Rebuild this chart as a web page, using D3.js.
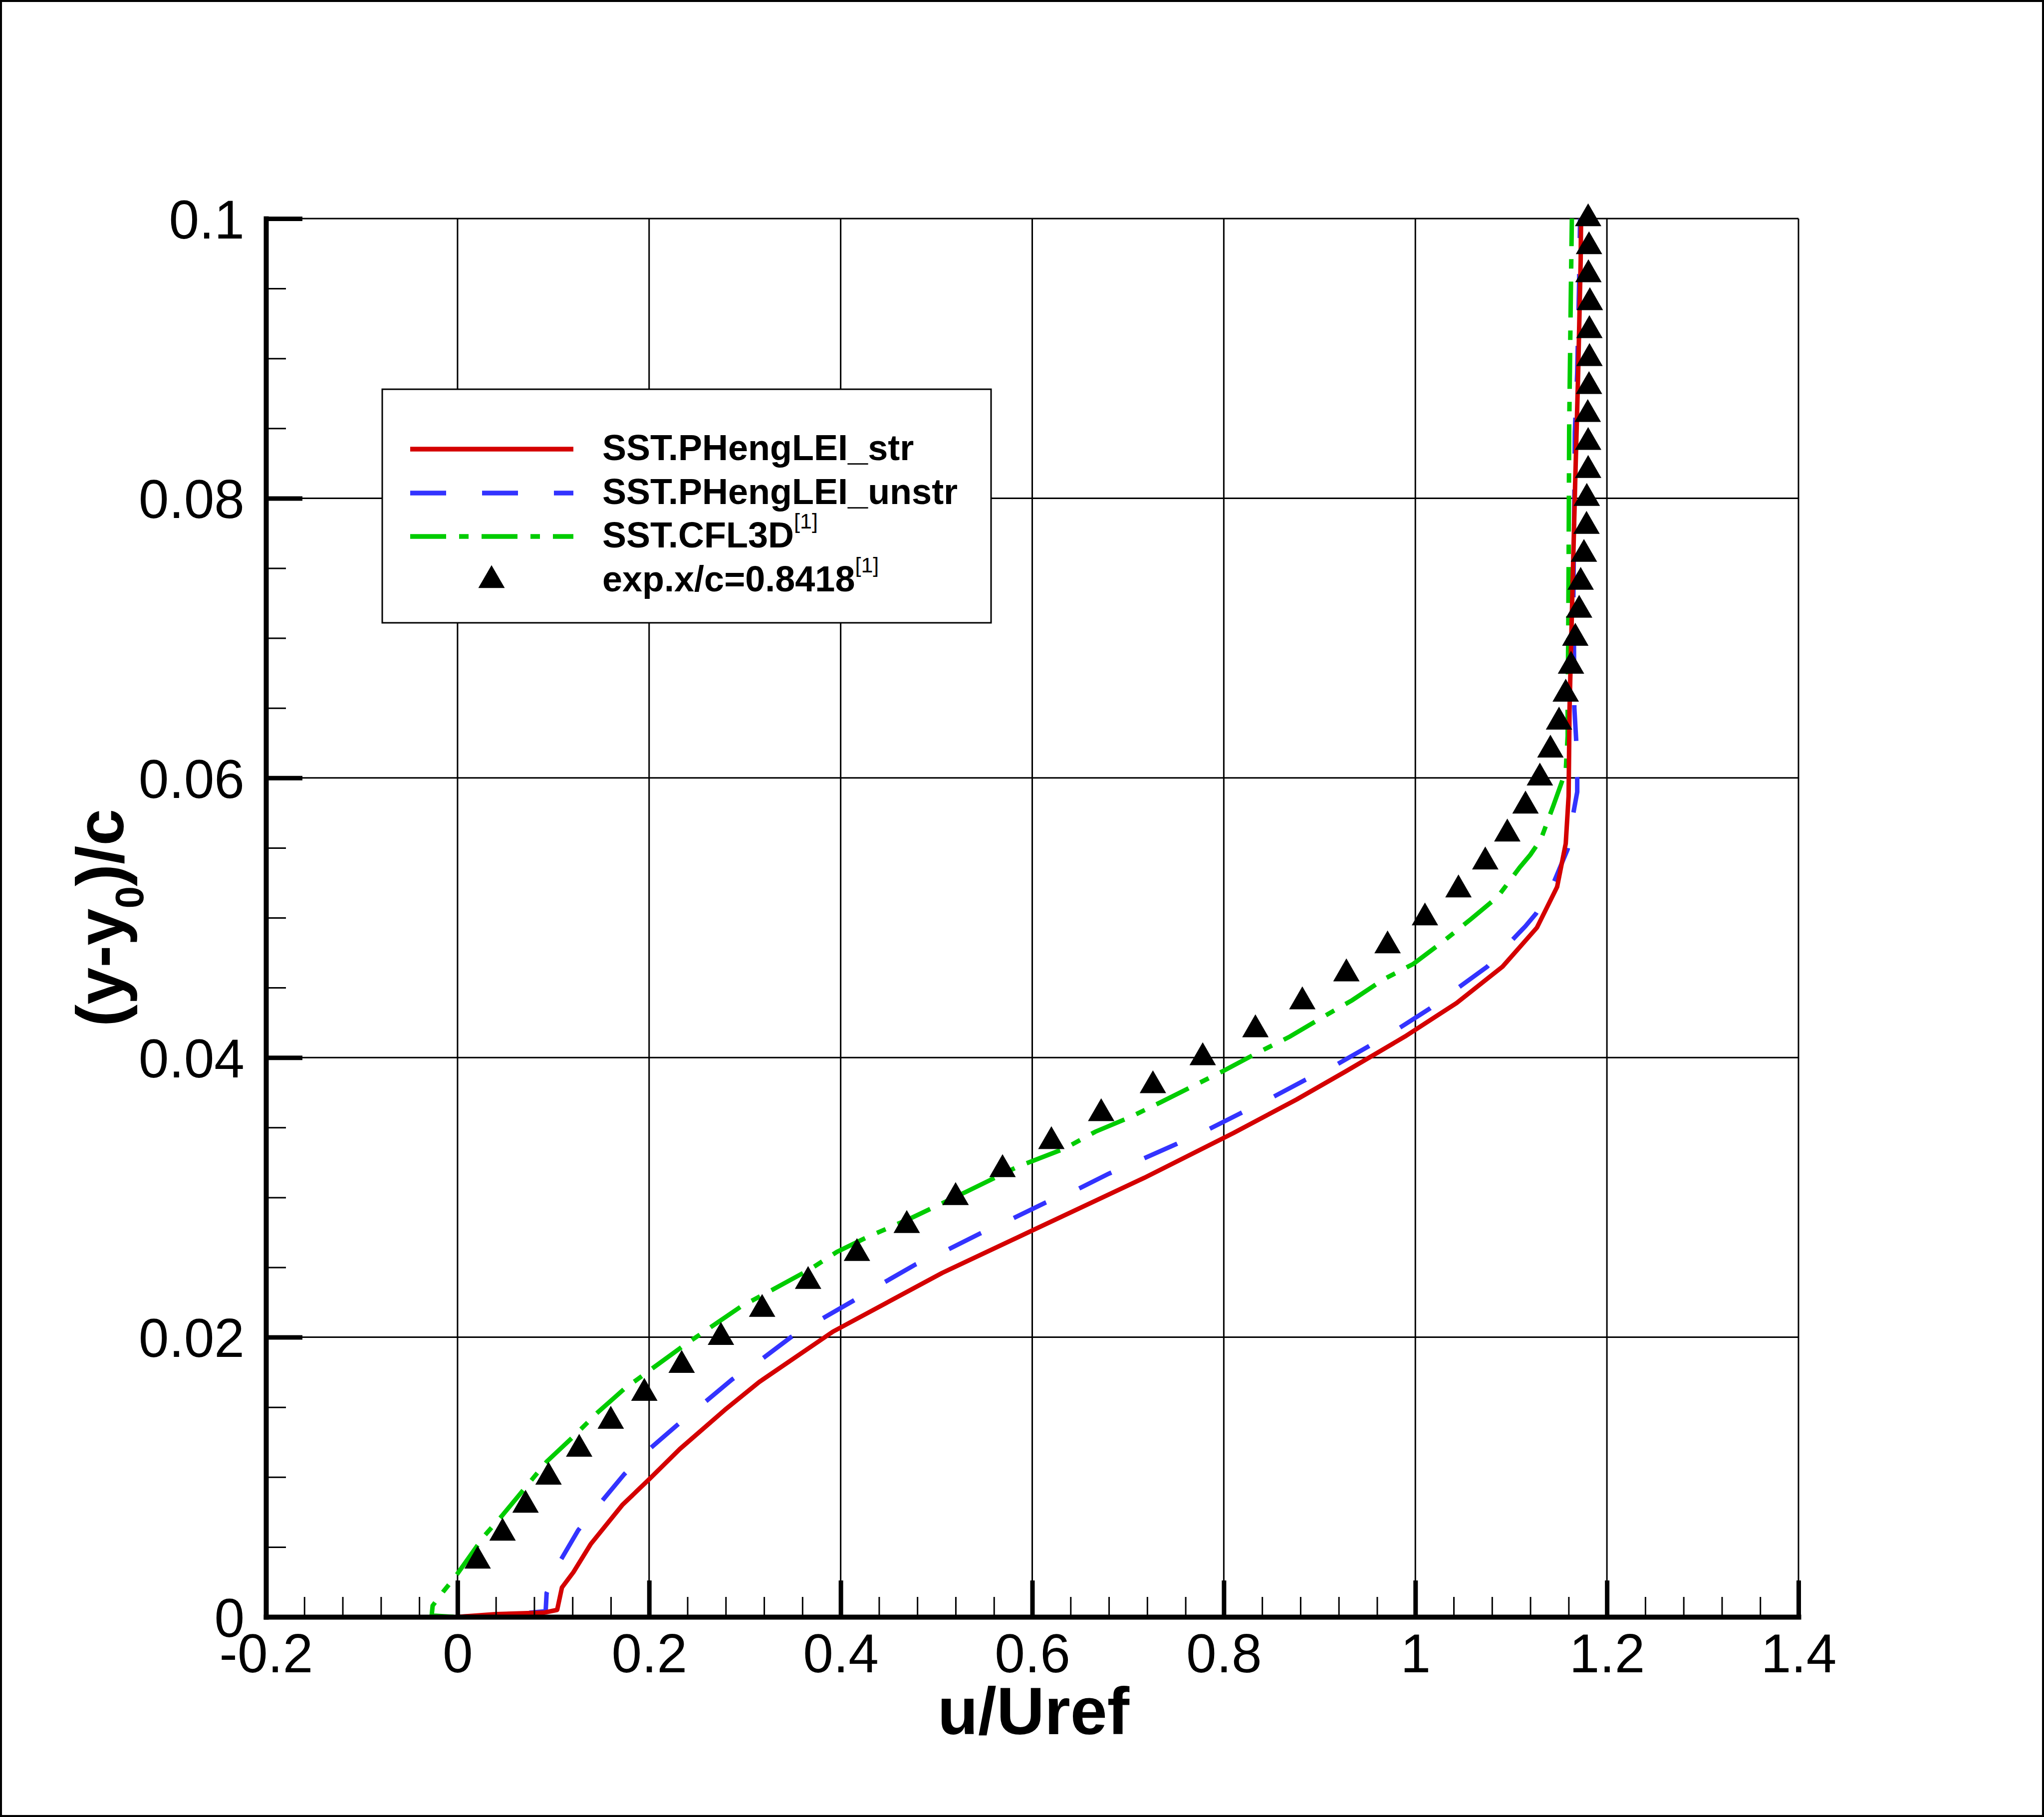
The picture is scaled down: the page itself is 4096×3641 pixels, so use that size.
<!DOCTYPE html>
<html>
<head>
<meta charset="utf-8">
<script src="https://cdn.jsdelivr.net/npm/d3@7"></script>
<style>
  body { margin: 0; background: #fff; }
  text { font-family: "Liberation Sans", Arial, Helvetica, sans-serif; }
</style>
</head>
<body>
<div id="chart"></div>
<script>
const width = 4096,
      height = 3641;
const plot = {left: 533, right: 3604, top: 438, bottom: 3240};

// [u/Uref, (y-y0)/c]
const strData = [[0,0],[0.04,0.0002],[0.09,0.0003],[0.104,0.0005],[0.109,0.0021],[0.121,0.0032],
  [0.139,0.0052],[0.172,0.0080],[0.201,0.0099],[0.232,0.0120],[0.279,0.0148],[0.315,0.0168],
  [0.392,0.0204],[0.506,0.0246],[0.599,0.0276],[0.717,0.0314],[0.810,0.0346],[0.876,0.0370],
  [0.927,0.0390],[0.989,0.0415],[1.043,0.0439],[1.091,0.0465],[1.127,0.0493],[1.148,0.0522],
  [1.157,0.0553],[1.160,0.0587],[1.161,0.0650],[1.1634,0.0717],[1.1667,0.0807],[1.170,0.089],
  [1.1726,0.097],[1.173,0.1]];

const unstrData = [[0,0],[0.06,0.0002],[0.092,0.0004],[0.093,0.0017],[0.108,0.0041],[0.126,0.0062],
  [0.151,0.0083],[0.174,0.0102],[0.202,0.0121],[0.229,0.0137],[0.259,0.0154],[0.287,0.0170],
  [0.317,0.0184],[0.348,0.0200],[0.380,0.0213],[0.413,0.0226],[0.445,0.0239],[0.478,0.0252],
  [0.513,0.0263],[0.545,0.0274],[0.580,0.0285],[0.613,0.0296],[0.648,0.0306],[0.680,0.0317],
  [0.717,0.0328],[0.750,0.0338],[0.785,0.0349],[0.817,0.0360],[0.852,0.0372],[0.885,0.0384],
  [0.918,0.0395],[0.951,0.0408],[0.983,0.0421],[1.015,0.0435],[1.045,0.0450],[1.075,0.0465],
  [1.101,0.0484],[1.115,0.0494],[1.126,0.0503],[1.145,0.0526],[1.159,0.0549],[1.165,0.0575],
  [1.169,0.0590],[1.169,0.0600],[1.168,0.0626],[1.166,0.0650],[1.1655,0.0705],[1.165,0.0730],
  [1.166,0.080],[1.1665,0.0847],[1.169,0.089],[1.171,0.0954],[1.172,0.1]];

const cflData = [[-0.004,0],[-0.027,0.0001],[-0.026,0.0008],[-0.015,0.0018],[-0.002,0.0029],
  [0.028,0.0058],[0.046,0.0072],[0.069,0.0091],[0.093,0.0111],[0.121,0.0129],[0.146,0.0146],
  [0.174,0.0163],[0.204,0.0178],[0.234,0.0193],[0.266,0.0208],[0.296,0.0222],[0.329,0.0234],
  [0.369,0.0249],[0.396,0.0261],[0.429,0.0272],[0.473,0.0285],[0.531,0.0304],[0.585,0.0322],
  [0.634,0.0335],[0.666,0.0347],[0.701,0.0357],[0.734,0.0368],[0.769,0.0380],[0.801,0.0391],
  [0.834,0.0403],[0.869,0.0415],[0.901,0.0428],[0.934,0.0441],[0.967,0.0456],[0.998,0.0467],
  [1.029,0.0483],[1.058,0.0499],[1.086,0.0515],[1.109,0.0536],[1.120,0.0545],[1.131,0.0556],
  [1.144,0.0580],[1.157,0.0605],[1.159,0.0630],[1.159,0.065],[1.1596,0.070],[1.160,0.075],
  [1.1603,0.080],[1.1606,0.085],[1.1615,0.090],[1.1624,0.095],[1.1634,0.1]];

// experiment x/c=0.8418
const expY = [0.004,0.006,0.008,0.010,0.012,0.014,0.016,0.018,0.020,0.022,0.024,0.026,0.028,
  0.030,0.032,0.034,0.036,0.038,0.040,0.042,0.044,0.046,0.048,0.050,0.052,0.054,0.056,0.058,
  0.060,0.062,0.064,0.066,0.068,0.070,0.072,0.074,0.076,0.078,0.080,0.082,0.084,0.086,0.088,
  0.090,0.092,0.094,0.096,0.098,0.100];
const expU = [0.021,0.047,0.071,0.095,0.127,0.160,0.195,0.234,0.275,0.318,0.366,0.417,0.469,
  0.520,0.569,0.620,0.672,0.726,0.778,0.833,0.882,0.928,0.971,1.010,1.045,1.073,1.096,1.115,
  1.130,1.141,1.150,1.157,1.1625,1.167,1.171,1.1726,1.176,1.1787,1.179,1.1804,1.1804,1.180,
  1.1813,1.1818,1.1817,1.1822,1.1807,1.1813,1.1804];

const xTicks = [-0.2, 0, 0.2, 0.4, 0.6, 0.8, 1, 1.2, 1.4],
      xTickLabels = ["-0.2", "0", "0.2", "0.4", "0.6", "0.8", "1", "1.2", "1.4"];
const yTicks = [0, 0.02, 0.04, 0.06, 0.08, 0.1],
      yTickLabels = ["0", "0.02", "0.04", "0.06", "0.08", "0.1"];

const legendNames = ["SST.PHengLEI_str", "SST.PHengLEI_unstr", "SST.CFL3D", "exp.x/c=0.8418"],
      legendSup = ["", "", "[1]", "[1]"];

const red = "#d40000", blue = "#3333ff", green = "#00cc00";
const dashBlue = "72,72", dashGreen = "72,26,19,26";

let x = d3.scaleLinear().domain([-0.2, 1.4]).range([plot.left, plot.right]),
    y = d3.scaleLinear().domain([0, 0.1]).range([plot.bottom, plot.top]);

const svg = d3.select("#chart")
  .append("svg")
  .attr("width", width)
  .attr("height", height);

svg.append("rect")
  .attr("width", width).attr("height", height)
  .attr("fill", "#fff");

// outer frame
svg.append("rect")
  .attr("x", 2).attr("y", 2)
  .attr("width", width - 4).attr("height", height - 4)
  .attr("fill", "none").attr("stroke", "#000").attr("stroke-width", 4);

// grid
const grid = svg.append("g").attr("stroke", "#000").attr("stroke-width", 3);
grid.selectAll(".vgrid").data(xTicks).enter().append("line")
  .attr("class", "vgrid")
  .attr("x1", d => x(d)).attr("x2", d => x(d))
  .attr("y1", y(0)).attr("y2", y(0.1));
grid.selectAll(".hgrid").data(yTicks).enter().append("line")
  .attr("class", "hgrid")
  .attr("x1", x(-0.2)).attr("x2", x(1.4))
  .attr("y1", d => y(d)).attr("y2", d => y(d));

// curves
const line = d3.line().x(d => x(d[0])).y(d => y(d[1]));

svg.append("path").datum(cflData)
  .attr("d", line).attr("fill", "none")
  .attr("stroke", green).attr("stroke-width", 9)
  .attr("stroke-dasharray", dashGreen);

svg.append("path").datum(unstrData)
  .attr("d", line).attr("fill", "none")
  .attr("stroke", blue).attr("stroke-width", 9)
  .attr("stroke-dasharray", dashBlue);

svg.append("path").datum(strData)
  .attr("d", line).attr("fill", "none")
  .attr("stroke", red).attr("stroke-width", 9)
  .attr("stroke-linejoin", "round");

const tri = d3.symbol(d3.symbolTriangle, 1216);

svg.selectAll(".exp")
  .data(expU)
  .enter()
  .append("path")
  .attr("class", "exp")
  .attr("d", tri)
  .attr("fill", "#000")
  .attr("transform", (d, i) => "translate(" + x(d) + "," + y(expY[i]) + ")");

// axes
const minorX = d3.range(-0.2, 1.4001, 0.04).filter(d => Math.abs(Math.round(d / 0.2) * 0.2 - d) > 1e-6),
      minorY = d3.range(0, 0.1001, 0.005).filter(d => Math.abs(Math.round(d / 0.02) * 0.02 - d) > 1e-7);

svg.append("g")
  .attr("transform", "translate(0," + plot.bottom + ")")
  .call(d3.axisBottom(x).tickValues(minorX).tickFormat("").tickSizeInner(-40).tickSizeOuter(0))
  .call(g => g.select(".domain").remove())
  .selectAll("line").attr("stroke-width", 3);

svg.append("g")
  .attr("transform", "translate(" + plot.left + ",0)")
  .call(d3.axisLeft(y).tickValues(minorY).tickFormat("").tickSizeInner(-40).tickSizeOuter(0))
  .call(g => g.select(".domain").remove())
  .selectAll("line").attr("stroke-width", 3);

const xAxisG = svg.append("g")
  .attr("class", "x axis")
  .attr("transform", "translate(0," + plot.bottom + ")")
  .call(d3.axisBottom(x).tickValues(xTicks)
    .tickFormat((d, i) => xTickLabels[i])
    .tickSizeInner(-73).tickSizeOuter(0).tickPadding(34));

const yAxisG = svg.append("g")
  .attr("class", "y axis")
  .attr("transform", "translate(" + plot.left + ",0)")
  .call(d3.axisLeft(y).tickValues(yTicks)
    .tickFormat((d, i) => yTickLabels[i])
    .tickSizeInner(-73).tickSizeOuter(0).tickPadding(43));

[xAxisG, yAxisG].forEach(g => {
  g.attr("font-size", null).attr("font-family", null);
  g.select(".domain").attr("stroke-width", 10).attr("stroke-linecap", "square");
  g.selectAll(".tick line").attr("stroke-width", 9);
  g.selectAll("text")
    .attr("font-size", 109)
    .attr("font-family", "'Liberation Sans', Arial, sans-serif");
});
yAxisG.selectAll("text").attr("dy", "0.36em");

// axis titles
svg.append("text")
  .attr("x", 2071).attr("y", 3475)
  .attr("text-anchor", "middle")
  .attr("font-size", 133).attr("font-weight", "bold")
  .text("u/Uref");

const ytitle = svg.append("text")
  .attr("transform", "translate(247," + ((plot.top + plot.bottom) / 2) + ") rotate(-90)")
  .attr("text-anchor", "middle")
  .attr("font-size", 133).attr("font-weight", "bold");
ytitle.append("tspan").text("(y-y");
ytitle.append("tspan").attr("font-size", 80).attr("dy", 40).text("0");
ytitle.append("tspan").attr("dy", -40).text(")/c");

// legend
const legend = svg.append("g");
legend.append("rect")
  .attr("x", 766).attr("y", 780)
  .attr("width", 1220).attr("height", 468)
  .attr("fill", "#fff").attr("stroke", "#000").attr("stroke-width", 3);

const rowY = [900, 988, 1075, 1163];
const lineStyles = [[red, null], [blue, dashBlue], [green, dashGreen]];

lineStyles.forEach((s, i) => {
  legend.append("line")
    .attr("x1", 822).attr("x2", 1149)
    .attr("y1", rowY[i]).attr("y2", rowY[i])
    .attr("stroke", s[0]).attr("stroke-width", 9.5)
    .attr("stroke-dasharray", s[1]);
});
legend.append("path")
  .attr("d", tri)
  .attr("fill", "#000")
  .attr("transform", "translate(985," + rowY[3] + ")");

legendNames.forEach((name, i) => {
  const t = legend.append("text")
    .attr("x", 1207).attr("y", rowY[i] + 22)
    .attr("font-size", 72).attr("font-weight", "bold");
  t.append("tspan").text(name);
  if (legendSup[i]) {
    t.append("tspan").attr("dy", -38).attr("font-size", 43)
      .attr("font-weight", "normal").text(legendSup[i]);
  }
});
</script>
</body>
</html>
